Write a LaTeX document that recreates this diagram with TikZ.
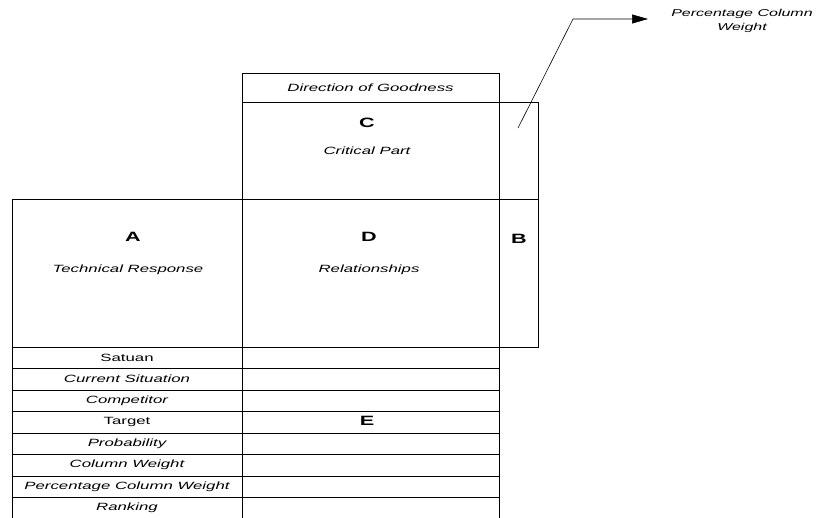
\documentclass[tikz,border=0pt]{standalone}
\usepackage{fontspec}
\setmainfont{Liberation Sans}[FakeStretch=1.6]
\usetikzlibrary{arrows.meta}
\begin{document}
\begin{tikzpicture}[x=1pt,y=-1pt,
  line/.style={draw=black,line width=0.8pt},
  lbl/.style={font=\fontsize{10.5}{14}\selectfont\itshape,inner sep=0pt,align=center},
  lblup/.style={font=\fontsize{10.5}{14}\selectfont,inner sep=0pt},
  big/.style={font=\fontsize{13.5}{14}\selectfont\bfseries,inner sep=0pt}]
\useasboundingbox (0,0) rectangle (818,518);
% boxes
\draw[line] (242,73) rectangle (499,102);
\draw[line] (242,102) rectangle (538,347);
\draw[line] (12,199) rectangle (538,347);
\draw[line] (242,199) -- (242,347);
\draw[line] (499,102) -- (499,347);
% rows
\foreach \y in {368.5,390,411.5,433,454.5,476,497.5}
  \draw[line] (12,\y) -- (499,\y);
\draw[line] (12,347) -- (12,520);
\draw[line] (242,347) -- (242,520);
\draw[line] (499,347) -- (499,520);
% texts
\node[lbl] (dog) at (370.5,87.5) {Direction of Goodness};
\node[big] (c) at (367,123) {C};
\node[lbl] (cp) at (367,151) {Critical Part};
\node[big] (a) at (133,237) {A};
\node[lbl] (tr) at (128,270) {Technical Response};
\node[big] (d) at (369,237) {D};
\node[lbl] (rel) at (369,270) {Relationships};
\node[big] (b) at (519,239) {B};
\node[lblup] (r1) at (127,357.7) {Satuan};
\node[lbl] (r2) at (127,379.2) {Current Situation};
\node[lbl] (r3) at (127,400.7) {Competitor};
\node[lblup] (r4) at (127,422.2) {Target};
\node[lbl] (r5) at (127,443.7) {Probability};
\node[lbl] (r6) at (127,465.2) {Column Weight};
\node[lbl] (r7) at (127,486.7) {Percentage Column Weight};
\node[lbl] (r8) at (127,508.2) {Ranking};
\node[big] (e) at (367,421) {E};
\node[lbl,font=\fontsize{10}{14}\selectfont\itshape] (pcw) at (742,21) {Percentage Column\\Weight};
% arrow
\coordinate (start) at (518,128);
\coordinate (bend) at (573,19);
\coordinate (tip) at (648,19);
\draw[line,line width=0.6pt,-{Triangle[length=16pt,width=9pt]}] (start) -- (bend) -- (tip);
\end{tikzpicture}
\end{document}
